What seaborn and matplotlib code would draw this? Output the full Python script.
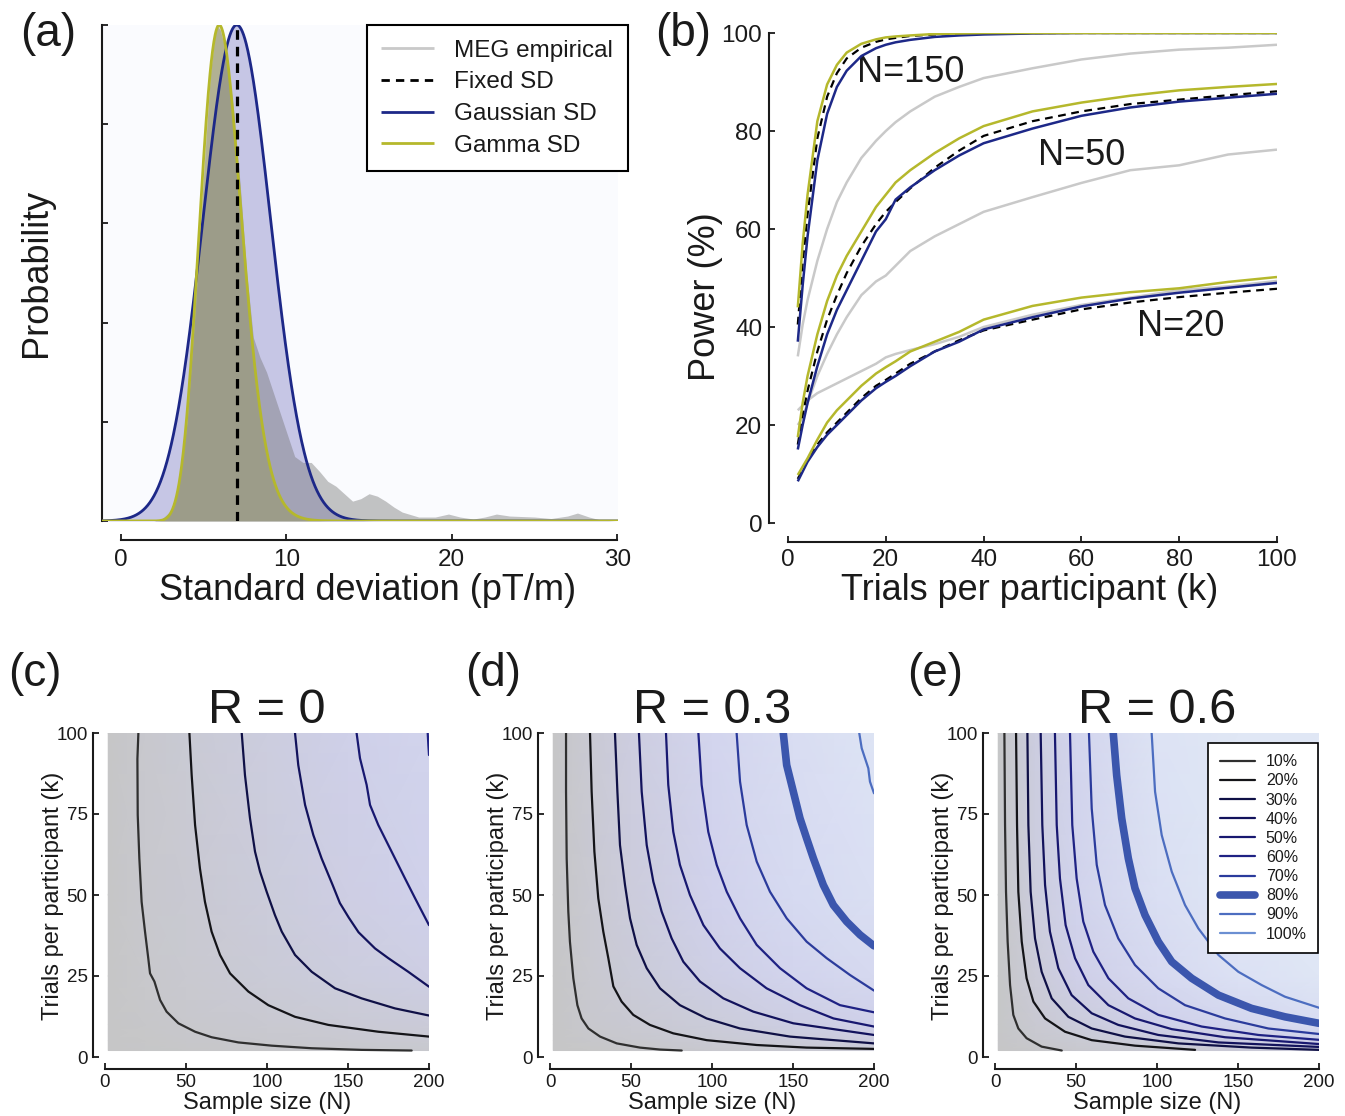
import numpy as np
import matplotlib
matplotlib.use("Agg")
import matplotlib.pyplot as plt
import seaborn as sns
from matplotlib.lines import Line2D
from matplotlib.colors import LinearSegmentedColormap

# ---------------- (a) distributions of sensor standard deviation ----------------
SD_FIXED = 7.0          # fixed SD (pT/m)
GAUSS_MEAN = 7.0        # Gaussian SD model
GAUSS_SD = 2.05
GAMMA_SHAPE = 23.0      # Gamma SD model
GAMMA_SCALE = 0.27

meg_sd = [2.0, 2.5, 3.0, 3.5, 4.0, 4.5, 5.0, 5.4, 5.75, 6.0, 6.4, 6.8, 7.2, 7.6, 8.0,
          8.4, 8.8, 9.2, 9.6, 10.0, 10.5, 11.0, 11.5, 12.0, 12.5, 13.0, 13.5, 14.0,
          14.5, 15.0, 15.5, 16.0, 16.5, 17.0, 18.0, 19.0, 19.8, 20.5, 21.3, 22.0,
          22.7, 23.5, 25.0, 26.0, 27.0, 27.6, 28.3, 29.0, 30.0]
meg_density = [0.0, 0.005, 0.02, 0.07, 0.2, 0.43, 0.7, 0.9, 1.0, 0.99, 0.94, 0.83,
               0.68, 0.5, 0.37, 0.33, 0.3, 0.26, 0.22, 0.18, 0.13, 0.118, 0.118, 0.10,
               0.08, 0.07, 0.055, 0.04, 0.045, 0.055, 0.05, 0.04, 0.028, 0.018, 0.008,
               0.008, 0.014, 0.008, 0.004, 0.008, 0.014, 0.01, 0.008, 0.005, 0.01,
               0.016, 0.008, 0.002, 0.0]

# ---------------- (b) power vs trials per participant ----------------
trials_k = [2, 3, 4, 6, 8, 10, 12, 15, 18, 20, 22, 25, 30, 35, 40, 50, 60, 70, 80, 90, 100]

n150_meg = [34, 40.5, 45.5, 53.5, 60, 65.5, 69.5, 74.5, 78, 80, 81.8, 84, 87, 89, 90.8,
            92.8, 94.6, 95.8, 96.6, 97, 97.6]
n150_fixed = [40.5, 53, 63, 78.5, 87, 91.8, 94.8, 97, 98.2, 98.7, 99, 99.4, 99.7, 99.8,
              99.9, 100, 100, 100, 100, 100, 100]
n150_gauss = [37, 48.5, 58.5, 74, 83.5, 89, 92.3, 95.3, 96.9, 97.6, 98.1, 98.6, 99.2,
              99.5, 99.7, 99.9, 100, 100, 100, 100, 100]
n150_gamma = [44, 57, 67, 82, 89.5, 93.5, 96, 97.8, 98.7, 99.1, 99.3, 99.5, 99.8, 99.9,
              100, 100, 100, 100, 100, 100, 100]

n50_meg = [20, 21.5, 24.5, 30, 34.5, 38.5, 42, 46.5, 49.3, 50.5, 52.5, 55.5, 58.5, 61,
           63.5, 66.5, 69.4, 72, 73, 75.2, 76.2]
n50_fixed = [16, 22, 27, 35, 41.5, 46.5, 51, 56.5, 61, 63.5, 65.5, 68.3, 72.5, 76, 79,
             82, 84, 85.5, 86.4, 87.3, 88.1]
n50_gauss = [15, 20, 24.5, 32, 38.5, 43.5, 47.5, 53.5, 59.5, 62, 66, 68.5, 72, 75, 77.5,
             80.5, 83.1, 84.8, 86, 86.8, 87.6]
n50_gamma = [17.5, 24.5, 30, 38.5, 45.3, 50.5, 54.5, 59.5, 64.5, 67, 69.5, 72, 75.5,
             78.5, 81, 84, 85.8, 87.2, 88.3, 89, 89.6]

n20_meg = [23, 24, 25, 26.5, 27.5, 28.5, 29.5, 31, 32.5, 33.8, 34.5, 35.3, 36.5, 38, 40,
           42.5, 44.5, 46, 47.5, 48.3, 49.4]
n20_fixed = [9, 11, 13, 16, 18.5, 20.5, 22.5, 25.5, 28, 29.2, 30.5, 32.5, 35, 37.3,
             39.3, 41.5, 43.6, 45, 46.1, 47, 47.8]
n20_gauss = [8.5, 10.5, 12.5, 15.5, 18, 20, 22, 25, 27.5, 28.8, 30, 32, 35, 37, 39.5,
             42, 44.2, 45.8, 47, 48, 49]
n20_gamma = [9.8, 11.5, 13.2, 17, 20.5, 23, 25, 28, 30.5, 31.8, 33, 35, 37, 39, 41.5,
             44.3, 46, 47.1, 47.9, 49.2, 50.2]

# ---------------- (c)-(e) power contours over sample size N and trials k ----------------
level_labels = ["10%", "20%", "30%", "40%", "50%", "60%", "70%", "80%", "90%", "100%"]
level_colors = ["#2f2f2f", "#141418", "#0f1046", "#12125c", "#181870", "#1f2284",
                "#2b3b9c", "#3b56ad", "#4c6dc0", "#6b8fd2"]
level_widths = [1.6, 1.6, 1.6, 1.6, 1.6, 1.6, 1.6, 5.5, 1.6, 1.6]

# R = 0 : (N, k) points along each power level
r0_p10 = [(20.6, 100), (20.0, 92), (20.2, 74.7), (21.2, 61.3), (22.6, 47.9), (24.7, 38.7),
          (26.7, 30.5), (27.8, 25.8), (30.5, 23.3), (34, 17.6), (38, 14), (45.3, 10.4),
          (55.6, 7.8), (65.8, 6.1), (82.3, 4.5), (102.9, 3.5), (127.6, 2.7), (158.4, 2.2),
          (189.3, 2.0)]
r0_p20 = [(52.1, 100), (53.5, 87), (55.6, 71.6), (58.6, 58.2), (61.7, 47.9), (65.8, 38.7),
          (71, 31.5), (77.2, 25.8), (88.5, 20.2), (100.8, 16), (117.3, 12.4), (137.9, 9.9),
          (168.7, 7.8), (200, 6.3)]
r0_p30 = [(84.4, 100), (86.4, 87), (89.5, 73.7), (92.6, 63.4), (95.7, 57.2), (99.8, 51),
          (104.9, 43.8), (109.1, 38.7), (117.3, 31.5), (127.6, 26.3), (142, 21.2),
          (158.4, 18.1), (179, 15), (200, 12.8)]
r0_p40 = [(117.3, 100), (119.3, 90.1), (123.5, 77.8), (128.6, 68.5), (133.7, 61.3),
          (140.5, 53.1), (145, 47.5), (150.5, 43), (156.5, 38.5), (166.7, 33.5),
          (174.9, 30.5), (187.2, 26.3), (200, 21.7)]
r0_p50 = [(155.3, 100), (157.4, 92.2), (161.5, 84), (163.6, 77.8), (168.7, 71.6),
          (172.8, 67.5), (179, 61.3), (185.2, 55.1), (191.4, 49), (200, 40.7)]
r0_p60 = [(199.2, 100), (199.6, 96.3), (200, 93.2)]

# R = 0.3
r3_p10 = [(9.9, 100), (9.9, 81.9), (10.3, 61.3), (11.3, 44.9), (12.3, 35.6), (14.4, 24.3),
          (16.9, 16), (19.5, 11.9), (23.7, 8.8), (30.9, 6.3), (41.2, 4.2), (55.6, 2.9),
          (67.9, 2.3), (81.3, 2.0)]
r3_p20 = [(24.7, 100), (25.7, 81.9), (27.4, 63.4), (29.8, 49), (32.9, 38.7), (36, 30.5),
          (39.1, 21.8), (44.2, 17.1), (51.4, 13), (61.7, 9.9), (76.1, 7.3), (96.7, 5.2),
          (127.6, 3.7), (158.4, 2.9), (200, 2.5)]
r3_p30 = [(40.1, 100), (41.6, 81.9), (43.2, 65.4), (46.3, 53.1), (49.4, 42.8), (53.5, 34.6),
          (59.7, 27.4), (67.9, 21.2), (80.2, 16), (96.7, 11.9), (117.3, 8.8), (148.1, 6.3),
          (200, 4.2)]
r3_p40 = [(54.9, 100), (56.6, 81.9), (59.7, 65.4), (63.8, 54.1), (68.9, 44.9), (75.1, 36.6),
          (82.3, 29.4), (92.6, 23.3), (107, 18.1), (125.5, 14), (150.2, 10.4), (200, 6.8)]
r3_p50 = [(71.6, 100), (73, 84), (76.1, 69.5), (80.2, 59.3), (86.4, 50), (94.7, 40.7),
          (104.9, 33.5), (117.3, 27.4), (133.7, 21.2), (154.3, 16), (175, 11.9), (200, 9.4)]
r3_p60 = [(91.6, 100), (93.6, 84), (97.7, 69.5), (102.9, 59.3), (109.1, 51), (117.3, 42.8),
          (127.6, 34.6), (142, 27.4), (158.4, 21.2), (179, 16), (200, 13.8)]
r3_p70 = [(115.2, 100), (117.3, 85), (121.4, 71.6), (127.6, 60.3), (135.8, 51),
          (146.1, 42.8), (158.4, 35.6), (170.8, 30.5), (185.2, 25.3), (200, 20.5)]
r3_p80 = [(144, 100), (146.1, 90.1), (150.2, 81.9), (154.3, 73.7), (158.4, 67.5),
          (162.6, 61.3), (168.7, 53.1), (174.9, 46.9), (183.1, 41.8), (191.4, 37.7),
          (200, 34.3)]
r3_p90 = [(190.9, 100), (192.4, 95.3), (196.5, 89.1), (197.5, 85), (200, 81.4)]

# R = 0.6
r6_p10 = [(5.8, 100), (6.2, 71.6), (6.8, 51), (7.8, 35.6), (9.3, 22.2), (11.3, 13),
          (14.4, 8.8), (19.5, 5.8), (28.8, 3.2), (41.2, 2.0)]
r6_p20 = [(13, 100), (13.6, 71.6), (14.4, 51), (16.5, 35.6), (19.5, 24.3), (23.7, 17.1),
          (30.9, 11.9), (43.2, 7.8), (59.7, 5.2), (86.4, 3.5), (123.5, 2.2)]
r6_p30 = [(20, 100), (20.6, 71.6), (22, 51), (24.7, 36.6), (28.8, 26.3), (35, 18.1),
          (45.3, 12.4), (59.7, 8.8), (80.2, 6.3), (113.2, 4.2), (158.4, 2.9), (200, 2.2)]
r6_p40 = [(28.2, 100), (29.2, 71.6), (30.9, 53.1), (33.9, 38.7), (39.1, 27.4), (47.3, 19.1),
          (59.7, 13.5), (76.1, 9.9), (100.8, 6.8), (137.9, 4.5), (200, 3.1)]
r6_p50 = [(37, 100), (38.1, 71.6), (40.1, 55.1), (43.6, 40.7), (49.4, 30.5), (57.6, 22.2),
          (70, 16), (86.4, 11.9), (109.1, 8.6), (142, 6.1), (200, 4.0)]
r6_p60 = [(46.3, 100), (47.7, 71.6), (50.4, 55.1), (54.5, 41.8), (60.7, 32.5), (70, 24.3),
          (82.3, 18.1), (100.8, 13), (127.6, 9.4), (162.6, 6.8), (200, 5.3)]
r6_p70 = [(58, 100), (59.7, 76.7), (62.8, 59.3), (67.9, 46.9), (76.1, 36.6), (86.4, 28.4),
          (100.8, 21.2), (117.3, 16), (142, 11.9), (168.7, 8.8), (200, 7.1)]
r6_p80 = [(73, 100), (75.1, 87), (78.2, 73.7), (82.3, 61.3), (86.4, 52.1), (92.6, 43.8),
          (100.8, 35.6), (109.1, 29.4), (121.4, 24.3), (137.9, 19.1), (158.4, 15),
          (179, 12.4), (200, 10.4)]
r6_p90 = [(96.7, 100), (98.8, 81.9), (102.9, 68.5), (109.1, 57.2), (117.3, 46.9),
          (125.5, 39.7), (137.9, 31.5), (150.2, 26.3), (164.6, 22.2), (179, 18.6),
          (200, 15.2)]

# coarse power surface (%) behind the contours: rows = grid_k, columns = grid_n
grid_n = [2, 25, 50, 100, 150, 200]
grid_k = [2, 5, 10, 25, 50, 100]
r0_power = [[1, 3, 4.5, 6, 8.5, 11],
            [2, 3.5, 6.5, 12, 15, 18],
            [2, 5.5, 10.3, 15.7, 21, 26],
            [2, 9, 14.4, 24.2, 33.3, 42],
            [2, 10.6, 17, 30, 42, 52],
            [2, 11.4, 19.4, 34.8, 48.7, 60]]
r3_power = [[1, 3.5, 6, 11, 15.5, 20],
            [2, 7, 12, 20, 26, 32],
            [2, 11, 17, 28.5, 40, 50.5],
            [2, 14.6, 24.8, 43.6, 60, 73],
            [2, 17.5, 31, 56, 74.8, 84.5],
            [2, 20, 36.7, 63.5, 81.3, 91.5]]
r6_power = [[2, 6, 11, 17, 22.5, 27],
            [2.5, 11, 18, 29.5, 40, 52],
            [3, 16.5, 29.5, 50.3, 64, 79],
            [3, 25, 47.5, 73.5, 88, 95],
            [3, 33, 58, 85, 95, 98],
            [3, 36, 63, 91, 97, 99]]

# ---------------- style ----------------
W, H = 1345, 1116
INK = "#1a1a1a"
BLUE = "#1d2888"
YELLOW = "#b5b82c"
GRAY = "#c9c9c9"

sns.set_theme(style="ticks")
plt.rcParams["font.family"] = ["Liberation Sans", "DejaVu Sans"]
plt.rcParams.update({
    "axes.linewidth": 1.5, "axes.edgecolor": INK, "axes.labelcolor": INK,
    "text.color": INK, "xtick.color": INK, "ytick.color": INK,
    "xtick.direction": "in", "ytick.direction": "in",
    "xtick.major.size": 4.5, "ytick.major.size": 4.5,
    "xtick.major.width": 1.3, "ytick.major.width": 1.3,
    "lines.solid_capstyle": "butt",
})

fig = plt.figure(figsize=(W / 100, H / 100), dpi=100)


def rect(left, top, width, height):
    return [left / W, 1 - (top + height) / H, width / W, height / H]


# ---------------- panel (a) ----------------
ax_a = fig.add_axes(rect(102, 25, 516, 496))
ax_a.set_facecolor("#fafbfe")
xs = np.linspace(-1.15, 30.05, 1200)
gauss_curve = np.exp(-0.5 * ((xs - GAUSS_MEAN) / GAUSS_SD) ** 2)
gamma_mode = (GAMMA_SHAPE - 1) * GAMMA_SCALE
xpos = np.clip(xs, 1e-6, None)
gamma_curve = np.where(
    xs > 0,
    np.exp((GAMMA_SHAPE - 1) * np.log(xpos / gamma_mode) - (xpos - gamma_mode) / GAMMA_SCALE),
    0.0)

ax_a.fill_between(xs, gauss_curve, color=(0.25, 0.25, 0.65), alpha=0.28, lw=0, zorder=1)
ax_a.fill_between(meg_sd, meg_density, color=(0.45, 0.45, 0.45), alpha=0.42, lw=0, zorder=2)
ax_a.fill_between(xs, gamma_curve, color=(0.55, 0.55, 0.15), alpha=0.3, lw=0, zorder=3)
sns.lineplot(x=xs, y=gauss_curve, color=BLUE, lw=2.0, estimator=None, ax=ax_a, zorder=4)
sns.lineplot(x=xs, y=gamma_curve, color=YELLOW, lw=2.0, estimator=None, ax=ax_a, zorder=5)
ax_a.plot([SD_FIXED, SD_FIXED], [0, 1], color="black", lw=2.3, ls=(0, (3, 2.2)), zorder=6)

ax_a.set_xlim(-1.15, 30.05)
ax_a.set_ylim(0, 1.0)
ax_a.set_xticks([0, 10, 20, 30])
ax_a.set_yticks(np.linspace(0, 1, 6))
ax_a.set_yticklabels([])
ax_a.tick_params(axis="x", labelsize=17.5, pad=6)
ax_a.set_xlabel("Standard deviation (pT/m)", fontsize=26)
ax_a.set_ylabel("Probability", fontsize=26)
ax_a.xaxis.set_label_coords(0.5155, -0.105)
ax_a.yaxis.set_label_coords(-0.093, 0.5)
sns.despine(ax=ax_a, offset={"bottom": 14, "left": 0}, trim=True)

legend_a = [
    Line2D([], [], color=GRAY, lw=2.0),
    Line2D([], [], color="black", lw=2.0, ls=(0, (3, 2.2))),
    Line2D([], [], color=BLUE, lw=2.0),
    Line2D([], [], color=YELLOW, lw=2.0),
]
leg = ax_a.legend(legend_a, ["MEG empirical", "Fixed SD", "Gaussian SD", "Gamma SD"],
                  loc="upper right", bbox_to_anchor=(1.019, 1.0), borderaxespad=0,
                  fontsize=17.5, frameon=True, fancybox=False, framealpha=1,
                  edgecolor="black", facecolor="white", handlelength=2.15,
                  handletextpad=0.85, labelspacing=0.4, borderpad=0.6)
leg.get_frame().set_linewidth(1.5)
leg.set_zorder(10)

# ---------------- panel (b) ----------------
ax_b = fig.add_axes(rect(788, 33, 489, 490))
series_b = [
    (n150_meg, n150_fixed, n150_gauss, n150_gamma),
    (n50_meg, n50_fixed, n50_gauss, n50_gamma),
    (n20_meg, n20_fixed, n20_gauss, n20_gamma),
]
for meg_v, fixed_v, gauss_v, gamma_v in series_b:
    sns.lineplot(x=trials_k, y=meg_v, color=GRAY, lw=1.8, estimator=None, ax=ax_b, zorder=2)
    sns.lineplot(x=trials_k, y=fixed_v, color="black", lw=1.6, linestyle=(0, (3.5, 2.5)),
                 estimator=None, ax=ax_b, zorder=3)
    sns.lineplot(x=trials_k, y=gauss_v, color=BLUE, lw=1.8, estimator=None, ax=ax_b, zorder=4)
    sns.lineplot(x=trials_k, y=gamma_v, color=YELLOW, lw=1.8, estimator=None, ax=ax_b, zorder=5)

ax_b.text(14.1, 92, "N=150", fontsize=26, va="center", ha="left")
ax_b.text(51.1, 74.9, "N=50", fontsize=26, va="center", ha="left")
ax_b.text(71.4, 40, "N=20", fontsize=26, va="center", ha="left")
ax_b.set_xlim(0, 100)
ax_b.set_ylim(0, 100)
ax_b.set_xticks(range(0, 101, 20))
ax_b.set_yticks(range(0, 101, 20))
ax_b.tick_params(labelsize=17.5, pad=5)
ax_b.set_xlabel("Trials per participant (k)", fontsize=26)
ax_b.set_ylabel("Power (%)", fontsize=26)
ax_b.xaxis.set_label_coords(0.495, -0.102)
ax_b.yaxis.set_label_coords(-0.133, 0.461)
sns.despine(ax=ax_b, offset=13.5, trim=True)

# ---------------- panels (c)-(e) ----------------
bg_cmap = LinearSegmentedColormap.from_list(
    "power_bg", [(0.0, "#c6c6c6"), (0.5, "#cfd0ea"), (0.8, "#d8dcf2"), (1.0, "#e1e9f6")])

contour_panels = [
    (105, "R = 0", r0_power, [r0_p10, r0_p20, r0_p30, r0_p40, r0_p50, r0_p60]),
    (550, "R = 0.3", r3_power, [r3_p10, r3_p20, r3_p30, r3_p40, r3_p50, r3_p60, r3_p70,
                                r3_p80, r3_p90]),
    (995, "R = 0.6", r6_power, [r6_p10, r6_p20, r6_p30, r6_p40, r6_p50, r6_p60, r6_p70,
                                r6_p80, r6_p90]),
]
contour_axes = []
for left, title, power, lines in contour_panels:
    ax = fig.add_axes(rect(left, 733, 324, 324))
    ax.pcolormesh(grid_n, grid_k, np.array(power), shading="gouraud", cmap=bg_cmap,
                  vmin=0, vmax=100, zorder=0, rasterized=True)
    for i, pts in enumerate(lines):
        pts = np.array(pts)
        sns.lineplot(x=pts[:, 0], y=pts[:, 1], sort=False, estimator=None,
                     color=level_colors[i], lw=level_widths[i], ax=ax, zorder=3 + i,
                     solid_capstyle="round")
    ax.set_xlim(0, 200)
    ax.set_ylim(0, 100)
    ax.set_xticks([0, 50, 100, 150, 200])
    ax.set_yticks([0, 25, 50, 75, 100])
    ax.tick_params(labelsize=13.5, pad=4)
    ax.set_title(title, fontsize=35, pad=7)
    ax.set_xlabel("Sample size (N)", fontsize=17)
    ax.set_ylabel("Trials per participant (k)", fontsize=17)
    ax.xaxis.set_label_coords(0.5, -0.108)
    ax.yaxis.set_label_coords(-0.127, 0.497)
    sns.despine(ax=ax, offset=8.5, trim=True)
    contour_axes.append(ax)

ax_e = contour_axes[-1]
legend_e = [Line2D([], [], color=c, lw=w, solid_capstyle="round")
            for c, w in zip(level_colors, level_widths)]
leg_e = ax_e.legend(legend_e, level_labels, loc="upper right",
                    bbox_to_anchor=(0.997, 0.969), borderaxespad=0, fontsize=11.5,
                    frameon=True, fancybox=False, framealpha=1, edgecolor="black",
                    facecolor="white", handlelength=2.2, handletextpad=0.7,
                    labelspacing=0.26, borderpad=0.7)
leg_e.get_frame().set_linewidth(1.2)
leg_e.set_zorder(20)

# ---------------- panel letters ----------------
for x, y, s in [(20, 12, "(a)"), (655, 12, "(b)"), (8, 652, "(c)"), (465, 652, "(d)"),
                (907, 652, "(e)")]:
    fig.text(x / W, 1 - y / H, s, fontsize=33, va="top", ha="left")

fig.savefig("out.png", dpi=100)
